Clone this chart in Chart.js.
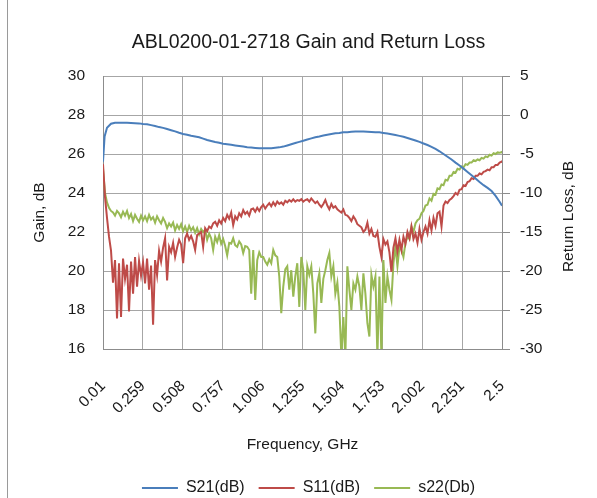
<!DOCTYPE html>
<html>
<head>
<meta charset="utf-8">
<script src="https://cdn.jsdelivr.net/npm/chart.js@4.4.0/dist/chart.umd.min.js"></script>
<style>
  html, body { margin: 0; padding: 0; background: #fff; }
  #wrap { position: relative; width: 597px; height: 498px; }
  #frame { position: absolute; left: 7px; top: 0; bottom: 0; border-left: 1px solid #9a9a9a; }
</style>
</head>
<body>
<div id="wrap">
  <canvas id="chart" width="597" height="498"></canvas>
  <div id="frame"></div>
</div>
<script>
// gain sweep points, GHz
const freqGain = [
  0.01, 0.02, 0.035, 0.06, 0.085, 0.11, 0.135, 0.16, 0.185, 0.21, 0.235,
  0.26, 0.285, 0.31, 0.335, 0.36, 0.385, 0.41, 0.435, 0.46, 0.485,
  0.51, 0.535, 0.56, 0.585, 0.61, 0.635, 0.66, 0.685, 0.71, 0.735,
  0.76, 0.785, 0.81, 0.835, 0.86, 0.885, 0.91, 0.935, 0.96, 0.985,
  1.01, 1.035, 1.06, 1.085, 1.11, 1.135, 1.16, 1.185, 1.21, 1.235,
  1.26, 1.285, 1.31, 1.335, 1.36, 1.385, 1.41, 1.435, 1.46, 1.485,
  1.51, 1.535, 1.56, 1.585, 1.61, 1.635, 1.66, 1.685, 1.71, 1.735,
  1.76, 1.785, 1.81, 1.835, 1.86, 1.885, 1.91, 1.935, 1.96, 1.985,
  2.01, 2.035, 2.06, 2.085, 2.11, 2.135, 2.16, 2.185, 2.21, 2.235,
  2.26, 2.285, 2.31, 2.335, 2.36, 2.385, 2.41, 2.435, 2.46, 2.485,
  2.5
];

// S21 gain, dB (left axis)
const s21 = [
  25.6, 26.9, 27.35, 27.55, 27.6, 27.6, 27.6, 27.6, 27.59, 27.58, 27.57,
  27.54, 27.52, 27.48, 27.44, 27.38, 27.34, 27.28, 27.22, 27.16, 27.09,
  27.03, 26.99, 26.94, 26.9, 26.86, 26.79, 26.72, 26.67, 26.62, 26.58,
  26.53, 26.5, 26.47, 26.44, 26.41, 26.38, 26.35, 26.33, 26.31, 26.29,
  26.29, 26.29, 26.3, 26.32, 26.34, 26.38, 26.44, 26.5, 26.56, 26.62,
  26.68, 26.74, 26.8, 26.86, 26.9, 26.95, 26.99, 27.03, 27.06, 27.08,
  27.11, 27.12, 27.14, 27.15, 27.15, 27.15, 27.14, 27.13, 27.12, 27.11,
  27.08, 27.05, 27.01, 26.97, 26.93, 26.88, 26.82, 26.76, 26.69, 26.62,
  26.54, 26.46, 26.37, 26.26, 26.14, 26.0, 25.86, 25.72, 25.56, 25.41,
  25.25, 25.08, 24.91, 24.74, 24.56, 24.4, 24.26, 24.1, 23.85, 23.55,
  23.35
];

// return loss sweep points, GHz
const freqRL = [
  0.01, 0.0225, 0.035, 0.0475, 0.06, 0.0725, 0.085, 0.0975,
  0.11, 0.1225, 0.135, 0.1475, 0.16, 0.1725, 0.185, 0.1975,
  0.21, 0.2225, 0.235, 0.2475, 0.26, 0.2725, 0.285, 0.2975,
  0.31, 0.3225, 0.335, 0.3475, 0.36, 0.3725, 0.385, 0.3975,
  0.41, 0.4225, 0.435, 0.4475, 0.46, 0.4725, 0.485, 0.4975,
  0.51, 0.5225, 0.535, 0.5475, 0.56, 0.5725, 0.585, 0.5975,
  0.61, 0.6225, 0.635, 0.6475, 0.66, 0.6725, 0.685, 0.6975,
  0.71, 0.7225, 0.735, 0.7475, 0.76, 0.7725, 0.785, 0.7975,
  0.81, 0.8225, 0.835, 0.8475, 0.86, 0.8725, 0.885, 0.8975,
  0.91, 0.9225, 0.935, 0.9475, 0.96, 0.9725, 0.985, 0.9975,
  1.01, 1.0225, 1.035, 1.0475, 1.06, 1.0725, 1.085, 1.0975,
  1.11, 1.1225, 1.135, 1.1475, 1.16, 1.1725, 1.185, 1.1975,
  1.21, 1.2225, 1.235, 1.2475, 1.26, 1.2725, 1.285, 1.2975,
  1.31, 1.3225, 1.335, 1.3475, 1.36, 1.3725, 1.385, 1.3975,
  1.41, 1.4225, 1.435, 1.4475, 1.46, 1.4725, 1.485, 1.4975,
  1.51, 1.5225, 1.535, 1.5475, 1.56, 1.5725, 1.585, 1.5975,
  1.61, 1.6225, 1.635, 1.6475, 1.66, 1.6725, 1.685, 1.6975,
  1.71, 1.7225, 1.735, 1.7475, 1.76, 1.7725, 1.785, 1.7975,
  1.81, 1.8225, 1.835, 1.8475, 1.86, 1.8725, 1.885, 1.8975,
  1.91, 1.9225, 1.935, 1.9475, 1.96, 1.9725, 1.985, 1.9975,
  2.01, 2.0225, 2.035, 2.0475, 2.06, 2.0725, 2.085, 2.0975,
  2.11, 2.1225, 2.135, 2.1475, 2.16, 2.1725, 2.185, 2.1975,
  2.21, 2.2225, 2.235, 2.2475, 2.26, 2.2725, 2.285, 2.2975,
  2.31, 2.3225, 2.335, 2.3475, 2.36, 2.3725, 2.385, 2.3975,
  2.41, 2.4225, 2.435, 2.4475, 2.46, 2.4725, 2.485, 2.4975,
  2.5
];

// S11 return loss, dB (right axis)
const s11 = [
  -6.3, -10.5, -13.2, -15.6, -17.4, -21.5, -18.6, -26.1,
  -19.0, -25.9, -18.4, -21.0, -19.2, -25.2, -18.8, -22.9,
  -18.2, -22.0, -18.7, -20.6, -18.9, -21.6, -18.4, -22.4,
  -19.3, -26.9, -18.6, -20.5, -17.4, -18.8, -17.0, -15.8,
  -21.2, -16.9, -17.6, -16.4, -18.2, -17.0, -16.0, -16.6,
  -19.0, -15.8, -15.2, -16.0, -15.5, -16.2, -17.3, -15.4,
  -15.2, -15.0, -16.9, -14.5, -14.9, -14.3, -14.5, -13.9,
  -13.7, -14.2, -13.5, -13.9, -13.2, -13.6, -12.8, -13.3,
  -12.5, -14.1, -13.0, -13.4, -12.6, -13.0, -12.2, -12.7,
  -12.4, -12.9, -12.1, -12.0, -12.4, -11.9, -12.3, -11.8,
  -11.5, -12.0, -11.6, -11.3, -11.7, -11.2, -11.6, -11.1,
  -11.4, -11.2, -11.5, -11.0, -11.2, -10.9, -11.1, -10.8,
  -11.1, -10.9, -11.0, -10.8, -11.1, -10.9, -10.8, -11.1,
  -10.7, -11.0, -11.3, -11.1, -11.5, -11.8, -11.4, -10.9,
  -11.6, -12.1, -11.4, -11.9, -11.7, -12.1, -12.3, -12.5,
  -12.1, -12.8, -12.9, -13.2, -13.6, -13.0, -13.4, -14.0,
  -14.2, -14.4, -15.0, -14.7, -13.8, -15.2, -14.6, -15.5,
  -15.6, -15.0, -16.9, -18.2, -15.9, -16.6, -16.2, -17.6,
  -20.1, -17.0, -15.8, -17.5, -16.0, -17.3, -15.6, -16.5,
  -15.0, -15.8, -14.3, -15.9, -15.2, -16.4, -14.6, -16.0,
  -15.0, -14.3, -15.2, -13.5, -14.8, -13.2, -14.2, -12.6,
  -12.4, -14.3, -11.6, -11.1, -11.3, -10.9, -10.7, -10.4,
  -10.0, -10.2, -9.6, -9.5, -9.0, -9.1, -8.6, -8.5,
  -8.1, -8.2, -7.8, -7.8, -7.5, -7.6, -7.3, -7.2,
  -7.0, -7.1, -6.7, -6.7, -6.4, -6.4, -6.1, -6.0,
  -5.85
];

// S22 return loss, dB (right axis)
const s22 = [
  -6.9, -10.0, -11.2, -11.9, -12.3, -12.5, -12.9, -12.3,
  -12.6, -13.1, -12.4, -12.9, -12.3, -13.2, -12.7, -13.6,
  -12.8, -13.3, -13.7, -12.9, -13.5, -13.0, -13.6, -12.8,
  -13.4, -13.1, -13.8, -13.0, -13.5, -13.9, -13.2, -13.7,
  -14.5, -13.9, -14.3, -13.8, -14.8, -14.1, -14.6, -14.0,
  -14.9, -14.3, -15.0, -14.2, -14.8, -14.4, -15.1, -14.5,
  -15.3, -14.6, -15.0, -14.7, -16.0, -15.2, -15.8, -17.3,
  -15.6, -16.3, -15.4, -16.5, -15.9, -16.8, -18.0, -16.4,
  -16.5, -15.8, -16.7, -16.9, -16.2, -16.6, -17.7, -16.8,
  -16.9, -17.3, -22.9, -17.3, -23.7, -18.6, -17.6, -18.2,
  -18.2, -18.8, -19.2, -18.5, -19.0, -17.3, -18.0, -18.2,
  -20.7, -25.4, -22.0, -19.8, -19.4, -22.4, -19.9, -23.3,
  -20.7, -19.0, -24.6, -18.2, -19.9, -25.0, -19.4, -20.5,
  -19.4, -22.9, -28.0, -21.6, -20.3, -24.1, -21.0, -19.9,
  -18.6, -17.7, -20.7, -19.4, -22.9, -21.5, -24.6, -31.0,
  -25.9, -31.0, -19.4, -22.4, -25.0, -21.6, -22.4, -20.7,
  -22.0, -25.0, -20.3, -22.9, -26.7, -28.4, -20.5, -22.0,
  -20.7, -31.0, -20.7, -31.0, -18.6, -24.1, -20.7, -22.4,
  -23.7, -19.0, -16.9, -19.4, -16.9, -17.3, -18.2, -16.4,
  -15.6, -15.9, -14.3, -15.0, -13.9, -13.5, -13.3, -12.6,
  -12.3, -11.6, -11.5, -10.7, -11.0, -10.1, -10.2, -9.4,
  -9.5, -8.9, -9.0, -8.3, -8.4, -7.8, -7.8, -7.3,
  -7.4, -6.9, -7.0, -6.6, -6.7, -6.3, -6.4, -6.1,
  -6.1, -5.8, -5.9, -5.7, -5.8, -5.5, -5.6, -5.3,
  -5.4, -5.1, -5.2, -4.9, -5.0, -4.8, -4.85, -4.75,
  -4.9
];

const freqTicks = [0.01, 0.259, 0.508, 0.757, 1.006, 1.255, 1.504, 1.753, 2.002, 2.251, 2.5];
const freqLabels = ['0.01', '0.259', '0.508', '0.757', '1.006', '1.255', '1.504', '1.753', '2.002', '2.251', '2.5'];

const FONT = "'Liberation Sans', Arial, sans-serif";
const TEXT = '#1a1a1a';
const GRID = '#a6a6a6';
const AXIS = '#8c8c8c';

function pairs(xs, ys) {
  return xs.map((f, i) => ({ x: f, y: ys[i] }));
}

// 右轴标题：自下而上书写
const rightTitle = {
  id: 'rightTitle',
  afterDraw(chart) {
    const { ctx, chartArea } = chart;
    const sc = chart.scales.y2;
    ctx.save();
    ctx.translate(sc.right - 28, (chartArea.top + chartArea.bottom) / 2 + 4);
    ctx.rotate(-Math.PI / 2);
    ctx.font = `15.5px ${FONT}`;
    ctx.fillStyle = TEXT;
    ctx.textAlign = 'center';
    ctx.textBaseline = 'middle';
    ctx.fillText('Return Loss, dB', 0, 0);
    ctx.restore();
  },
};

const line = (label, xs, ys, color, axis) => ({
  label,
  data: pairs(xs, ys),
  borderColor: color,
  backgroundColor: color,
  borderWidth: 2,
  pointRadius: 0,
  tension: 0,
  yAxisID: axis,
});

new Chart(document.getElementById('chart'), {
  type: 'line',
  data: {
    datasets: [
      line('S21(dB)', freqGain, s21, '#4A7EBB', 'y'),
      line('S11(dB)', freqRL, s11, '#BE4B48', 'y2'),
      line('s22(Db)', freqRL, s22, '#98B954', 'y2'),
    ],
  },
  plugins: [rightTitle],
  options: {
    responsive: false,
    animation: false,
    layout: { padding: { left: 20, right: 0, top: 0, bottom: -8 } },
    plugins: {
      title: {
        display: true,
        text: 'ABL0200-01-2718 Gain and Return Loss',
        color: TEXT,
        font: { family: FONT, size: 19.5, weight: 'normal' },
        padding: { top: 30.8, bottom: 21.8 },
      },
      legend: {
        position: 'bottom',
        labels: {
          boxWidth: 36,
          boxHeight: 0,
          padding: 14,
          color: TEXT,
          font: { family: FONT, size: 16 },
        },
      },
      tooltip: { enabled: false },
    },
    scales: {
      x: {
        type: 'linear',
        min: 0.01,
        max: 2.5,
        afterBuildTicks: (scale) => {
          scale.ticks = freqTicks.map((v) => ({ value: v }));
        },
        afterFit: (scale) => { scale.height = 117; },
        ticks: {
          autoSkip: false,
          minRotation: 45,
          maxRotation: 45,
          padding: 28,
          color: TEXT,
          font: { family: FONT, size: 15.5 },
          callback: (value, index) => freqLabels[index],
        },
        grid: { color: GRID, drawTicks: false },
        border: { color: AXIS },
        title: {
          display: true,
          text: 'Frequency, GHz',
          color: TEXT,
          font: { family: FONT, size: 15.5 },
          padding: { top: 0, bottom: 11.7 },
        },
      },
      y: {
        position: 'left',
        min: 16,
        max: 30,
        afterFit: (scale) => { scale.width = 83; },
        ticks: { stepSize: 2, padding: 18, color: TEXT, font: { family: FONT, size: 15.5 } },
        grid: { color: GRID, drawTicks: false },
        border: { color: AXIS },
        title: {
          display: true,
          text: 'Gain, dB',
          color: TEXT,
          font: { family: FONT, size: 15.5 },
          padding: { top: 10.7, bottom: 0 },
        },
      },
      y2: {
        position: 'right',
        min: -30,
        max: 5,
        afterFit: (scale) => { scale.width = 95; },
        ticks: { stepSize: 5, padding: 10, color: TEXT, font: { family: FONT, size: 15.5 } },
        grid: { drawOnChartArea: false, color: AXIS, tickLength: 8 },
        border: { color: AXIS },
      },
    },
  },
});
</script>
</body>
</html>
